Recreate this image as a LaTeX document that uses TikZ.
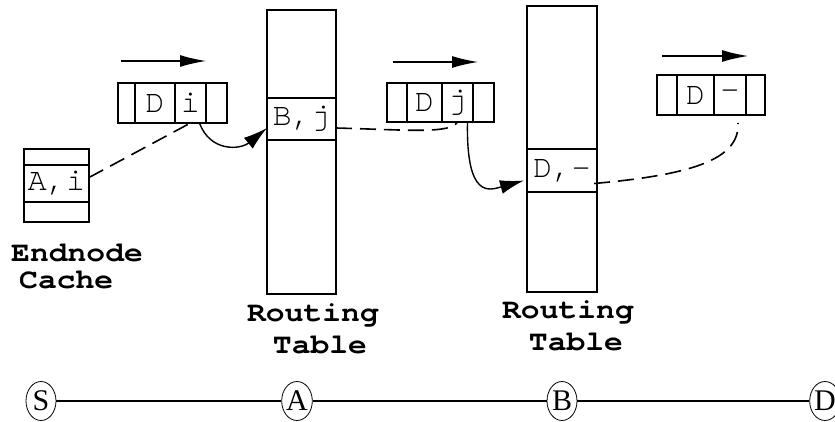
\documentclass[tikz,border=0pt]{standalone}
\usepackage{fontspec}
\setmonofont{TeX Gyre Cursor}
\newfontfamily\lblfont[FakeStretch=1.12]{TeX Gyre Cursor}
\newfontfamily\hopfont{Liberation Serif}
\usetikzlibrary{arrows.meta,positioning,shapes.geometric}

\begin{document}
\begin{tikzpicture}[x=1pt,y=-1pt,
    cl/.style={draw, line width=1.2pt, inner sep=0pt, outer sep=0pt,
      anchor=north west, font=\ttfamily\fontsize{32}{32}\selectfont},
    lb/.style={anchor=base, inner sep=0pt,
      font=\lblfont\bfseries\fontsize{28}{30}\selectfont},
    hop/.style={ellipse, draw, line width=0.8pt, minimum width=30pt,
      minimum height=39pt, inner sep=0pt,
      font=\hopfont\fontsize{30}{30}\selectfont},
    dir/.style={line width=1.3pt, -{Latex[length=26pt,width=12pt]}},
    fl/.style={line width=1.4pt, -{Latex[length=24pt,width=14pt]}},
    ptr/.style={line width=1.6pt, dash pattern=on 16pt off 8pt},
    ln/.style={line width=1.6pt}
  ]
  \useasboundingbox (0,0) rectangle (835,422);

  % endnode cache
  \node[cl, minimum width=65pt, minimum height=16pt] (ca1) at (24,149) {};
  \node[cl, minimum width=65pt, minimum height=37pt] (ca2) at (24,165) {A,i};
  \node[cl, minimum width=65pt, minimum height=20pt] (ca3) at (24,202) {};
  \node[lb, anchor=base west] (endl1) at (11,261) {Endnode};
  \node[lb, anchor=base west] (endl2) at (19,288) {Cache};

  % routing table at A
  \node[cl, minimum width=69pt, minimum height=88pt] (tb1a) at (267,10) {};
  \node[cl, minimum width=69pt, minimum height=42pt] (tb1e) at (267,98) {B,j};
  \node[cl, minimum width=69pt, minimum height=154pt] (tb1b) at (267,140) {};
  \node[lb] (rt1a) at (313,321) {Routing};
  \node[lb] (rt1b) at (320,353) {Table};

  % routing table at B
  \node[cl, minimum width=70pt, minimum height=143pt] (tb2a) at (527,6) {};
  \node[cl, minimum width=70pt, minimum height=43pt] (tb2e) at (527,149) {D,-};
  \node[cl, minimum width=70pt, minimum height=100pt] (tb2b) at (527,192) {};
  \node[lb] (rt2a) at (568,318) {Routing};
  \node[lb] (rt2b) at (576,350) {Table};

  % packets
  \node[cl, minimum width=17pt, minimum height=40pt] (p1a) at (118,83) {};
  \node[cl, minimum width=40pt, minimum height=40pt] (p1b) at (135,83) {D};
  \node[cl, minimum width=31pt, minimum height=40pt] (p1c) at (175,83) {i};
  \node[cl, minimum width=21pt, minimum height=40pt] (p1d) at (206,83) {};

  \node[cl, minimum width=20pt, minimum height=39pt] (p2a) at (387,83) {};
  \node[cl, minimum width=35pt, minimum height=39pt] (p2b) at (407,83) {D};
  \node[cl, minimum width=31pt, minimum height=39pt] (p2c) at (442,83) {j};
  \node[cl, minimum width=21pt, minimum height=39pt] (p2d) at (473,83) {};

  \node[cl, minimum width=20pt, minimum height=40pt] (p3a) at (657,75) {};
  \node[cl, minimum width=37pt, minimum height=40pt] (p3b) at (677,75) {D};
  \node[cl, minimum width=32pt, minimum height=40pt] (p3c) at (714,75) {-};
  \node[cl, minimum width=19pt, minimum height=40pt] (p3d) at (746,75) {};

  % direction of travel
  \coordinate (d1s) at (121,61); \coordinate (d1e) at (206,61);
  \coordinate (d2s) at (393,62); \coordinate (d2e) at (478,62);
  \coordinate (d3s) at (662,56); \coordinate (d3e) at (748,56);
  \draw[dir] (d1s) -- (d1e);
  \draw[dir] (d2s) -- (d2e);
  \draw[dir] (d3s) -- (d3e);

  % lookups
  \draw[ptr] ([yshift=6pt]ca2.east) -- (p1c.south);
  \draw[fl] ([xshift=9pt]p1c.south) .. controls (210,152) and (240,150) .. ([yshift=-9pt]tb1e.west);
  \draw[ptr] ([yshift=-9pt]tb1e.east) .. controls (410,130) and (450,134) .. (p2c.south);
  \draw[fl] ([xshift=10pt]p2c.south) .. controls (466,200) and (490,190) .. ([xshift=-3pt,yshift=-10pt]tb2e.west);
  \draw[ptr] ([xshift=-3pt,yshift=-13pt]tb2e.east) .. controls (690,175) and (740,160) .. ([xshift=8pt,yshift=-8pt]p3c.south);

  % route
  \node[hop] (hS) at (41,401) {S};
  \node[hop] (hA) at (297,401) {A};
  \node[hop] (hB) at (562,401) {B};
  \node[hop] (hD) at (825,401) {D};
  \draw[ln] (hS) -- (hA);
  \draw[ln] (hA) -- (hB);
  \draw[ln] (hB) -- (hD);
\end{tikzpicture}
\end{document}
